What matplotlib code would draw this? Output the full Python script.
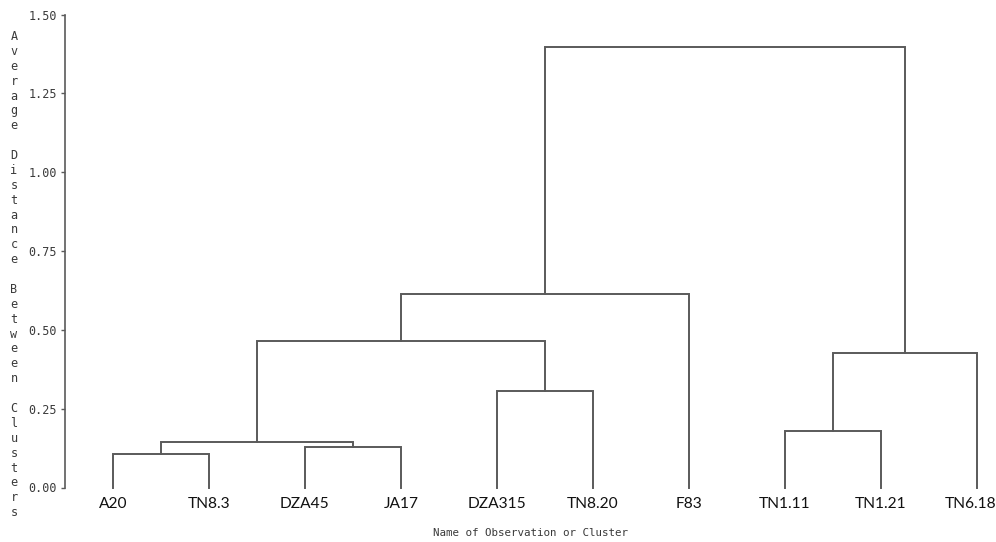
import matplotlib
matplotlib.use("Agg")
import matplotlib.pyplot as plt
from matplotlib.transforms import ScaledTranslation

# Leaves in dendrogram order
leaves = ['A20', 'TN8.3', 'DZA45', 'JA17', 'DZA315', 'TN8.20', 'F83',
          'TN1.11', 'TN1.21', 'TN6.18']

# Merges: cluster C1..C9 formed from left/right child at given average distance
merge_left = ['A20', 'DZA45', 'C1', 'DZA315', 'C3', 'C5', 'TN1.11', 'C7', 'C6']
merge_right = ['TN8.3', 'JA17', 'C2', 'TN8.20', 'C4', 'F83', 'TN1.21', 'TN6.18', 'C8']
merge_height = [0.105, 0.129, 0.144, 0.307, 0.465, 0.614, 0.179, 0.427, 1.396]

yticks = [0.00, 0.25, 0.50, 0.75, 1.00, 1.25, 1.50]
ylabel_text = 'Average Distance Between Clusters'
xlabel_text = 'Name of Observation or Cluster'

line_color = '#5a5a5a'
text_color = '#3a3a3a'
mono = 'DejaVu Sans Mono'

fig = plt.figure(figsize=(9.96, 5.42), dpi=100)
ax = fig.add_axes([65 / 996, 1 - 487.5 / 542, 931 / 996, 473 / 542])

# node positions
xpos = {name: i for i, name in enumerate(leaves)}
hpos = {name: 0.0 for name in leaves}
for k, (l, r, h) in enumerate(zip(merge_left, merge_right, merge_height)):
    cid = 'C%d' % (k + 1)
    xl, xr = xpos[l], xpos[r]
    ax.plot([xl, xl, xr, xr], [hpos[l], h, h, hpos[r]],
            color=line_color, linewidth=1.4, solid_joinstyle='miter',
            clip_on=False)
    xpos[cid] = (xl + xr) / 2
    hpos[cid] = h

ax.set_xlim(-0.5, 9.198)
ax.set_ylim(0, 1.5)

ax.set_yticks(yticks)
ax.set_yticklabels(['%.2f' % t for t in yticks], fontfamily=mono,
                   fontsize=8.5, color=text_color)
ax.tick_params(axis='y', direction='out', length=3, width=1,
               color=line_color, pad=3)

ax.set_xticks(range(len(leaves)))
ax.set_xticklabels(leaves, fontfamily='Lato', fontsize=11.2,
                   color='#111111')
ax.tick_params(axis='x', length=0, pad=6.5)
# keep the last leaf name inside the picture
last = ax.get_xticklabels()[-1]
last.set_transform(last.get_transform() +
                   ScaledTranslation(-6 / 100, 0, fig.dpi_scale_trans))

for s in ['top', 'right', 'bottom']:
    ax.spines[s].set_visible(False)
ax.spines['left'].set_color(line_color)
ax.spines['left'].set_linewidth(1.2)

ax.set_xlabel(xlabel_text, fontfamily=mono, fontsize=7.8,
              color=text_color, labelpad=12.5)

# stacked vertical y label, one letter per line
stacked = '\n'.join(ylabel_text)
fig.text(14 / 996, 1 - 30 / 542, stacked, fontfamily=mono, fontsize=8.5,
         color=text_color, ha='center', va='top', linespacing=1.188)

fig.savefig('out.png', dpi=100, facecolor='white')
